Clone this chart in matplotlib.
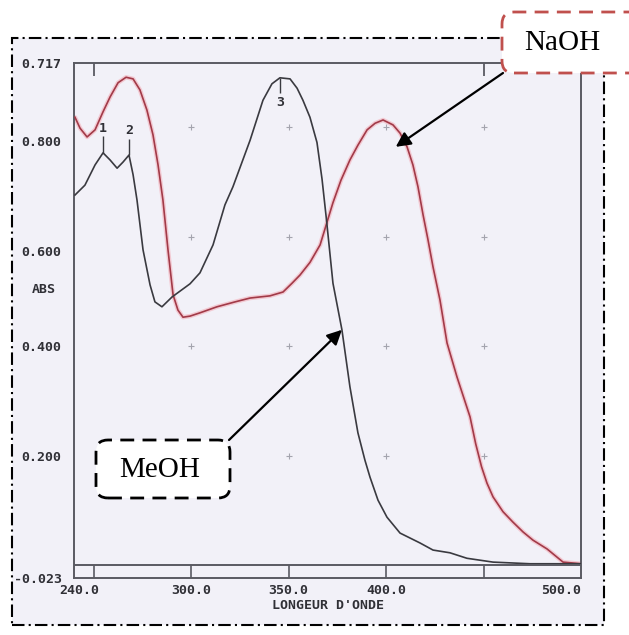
import matplotlib
matplotlib.use("Agg")
import matplotlib.pyplot as plt
from matplotlib.patches import Rectangle, FancyBboxPatch
from matplotlib.transforms import ScaledTranslation, IdentityTransform

# ---------------- data ----------------
meoh_nm = [240.5, 245.6, 250.8, 254.9, 258.5, 262.1, 265.1, 268.2, 270.3, 272.3,
           275.4, 279.0, 281.5, 285.1, 290.3, 299.5, 304.6, 311.3, 317.4, 321.5,
           330.3, 336.9, 341.5, 345.6, 350.8, 354.4, 357.4, 361.0, 364.6, 367.2,
           369.5, 372.8, 377.4, 381.5, 385.6, 389.2, 391.8, 395.9, 400.5, 407.2,
           417.4, 424.1, 432.8, 441.5, 454.9, 473.8, 500.0]
meoh_abs = [0.676, 0.694, 0.731, 0.753, 0.740, 0.725, 0.736, 0.749, 0.713, 0.667,
            0.576, 0.512, 0.481, 0.472, 0.490, 0.514, 0.534, 0.585, 0.658, 0.691,
            0.776, 0.849, 0.879, 0.890, 0.888, 0.871, 0.849, 0.818, 0.772, 0.705,
            0.630, 0.515, 0.430, 0.326, 0.242, 0.192, 0.161, 0.119, 0.088, 0.059,
            0.041, 0.028, 0.023, 0.013, 0.006, 0.003, 0.003]

naoh_nm = [240.5, 243.1, 246.7, 250.8, 254.9, 258.5, 262.6, 266.7, 270.3, 273.8,
           277.4, 280.5, 283.1, 285.6, 288.2, 290.8, 293.3, 295.9, 299.5, 304.6,
           313.3, 322.6, 330.3, 340.5, 347.2, 351.8, 355.9, 361.0, 366.2, 369.2,
           372.8, 376.9, 381.5, 385.6, 390.3, 394.4, 398.5, 403.6, 407.2, 410.8,
           413.8, 416.4, 419.0, 421.5, 424.1, 427.7, 431.3, 436.4, 443.1, 446.0,
           449.0, 451.8, 454.9, 460.0, 465.1, 470.3, 475.4, 482.6, 490.8, 500.0]
naoh_abs = [0.818, 0.798, 0.782, 0.795, 0.828, 0.855, 0.881, 0.891, 0.888, 0.868,
            0.831, 0.786, 0.731, 0.667, 0.576, 0.494, 0.466, 0.453, 0.455, 0.461,
            0.472, 0.481, 0.488, 0.492, 0.499, 0.515, 0.530, 0.553, 0.585, 0.620,
            0.662, 0.703, 0.740, 0.767, 0.795, 0.807, 0.813, 0.804, 0.789, 0.764,
            0.731, 0.691, 0.640, 0.595, 0.545, 0.484, 0.406, 0.344, 0.271, 0.222,
            0.180, 0.150, 0.125, 0.098, 0.079, 0.061, 0.046, 0.030, 0.006, 0.003]

peak_nm = [254.9, 268.2, 345.6]
peak_abs = [0.753, 0.749, 0.890]
peak_labels = ["1", "2", "3"]

x_min, x_max = 240.0, 500.0
y_min, y_max = -0.023, 0.917

xtick_vals = [240.0, 300.0, 350.0, 400.0, 500.0]
xtick_labels = ["240.0", "300.0", "350.0", "400.0", "500.0"]
xmark_vals = [250.0, 300.0, 350.0, 400.0, 450.0]

ytick_vals = [0.917, 0.8, 0.6, 0.4, 0.2, -0.023]
ytick_labels = ["0.717", "0.800", "0.600", "0.400", "0.200", "-0.023"]
ymark_vals = [0.8, 0.6, 0.4, 0.2]

x_label = "LONGEUR D'ONDE"
y_label = "ABS"
naoh_text = "NaOH"
meoh_text = "MeOH"

# ---------------- figure ----------------
W, H = 629, 635
DPI = 100
fig = plt.figure(figsize=(W / DPI, H / DPI), dpi=DPI)
fig.patch.set_facecolor("white")

scan_bg = "#f2f1f8"
frame_col = "#5a5a62"
txt_col = "#303036"
mono = dict(family="DejaVu Sans Mono", weight="bold", size=9.5, color=txt_col)

# scanned page with dash-dot border (pixel coords, origin bottom-left)
page = Rectangle((12, H - 625), 592, 587, transform=IdentityTransform(),
                 facecolor=scan_bg, edgecolor="black", lw=1.5,
                 linestyle=(0, (6, 2, 1, 2)), zorder=-2)
fig.add_artist(page)

ax = fig.add_axes([74 / W, (H - 578) / H, 507 / W, 515 / H])
ax.set_facecolor(scan_bg)
ax.set_xlim(x_min, x_max)
ax.set_ylim(y_min, y_max)
for s in ax.spines.values():
    s.set_color(frame_col)
    s.set_linewidth(1.4)

# curves
ax.plot(naoh_nm, naoh_abs, color="#f3b9c3", lw=3.2, alpha=0.7, solid_capstyle="round",
        solid_joinstyle="round", zorder=2)
ax.plot(naoh_nm, naoh_abs, color="#a23a48", lw=1.2, solid_joinstyle="round", zorder=3)
ax.plot(meoh_nm, meoh_abs, color="#3a3a40", lw=1.2, solid_joinstyle="round", zorder=3)

# bottom strip
ax.axhline(0.0, color=frame_col, lw=1.4, zorder=4)
ax.vlines(xmark_vals, y_min, 0.0, color=frame_col, lw=1.2, zorder=4)

# grid "+" marks
gx = [v for v in xmark_vals if v > 250] * len(ymark_vals)
gy = [v for v in ymark_vals for _ in range(len(xmark_vals) - 1)]
ax.scatter(gx, gy, marker="+", s=22, color="#a4a4ae", linewidths=0.8, zorder=1)

# ticks
ax.set_xticks(xtick_vals, xtick_labels)
ax.set_xticks(xmark_vals, minor=True)
ax.set_yticks(ytick_vals, ytick_labels)
ax.set_yticks(ymark_vals, minor=True)
ax.tick_params(which="major", length=0, pad=4)
ax.tick_params(axis="x", which="minor", bottom=False, top=True, direction="in",
               length=9, width=1.3, color=frame_col)
ax.tick_params(axis="y", which="minor", left=True, right=True, direction="in",
               length=9, width=1.3, color=frame_col)
ax.tick_params(axis="y", which="major", pad=9)
for lab in ax.get_xticklabels() + ax.get_yticklabels():
    lab.set_fontfamily(mono["family"])
    lab.set_fontweight(mono["weight"])
    lab.set_fontsize(mono["size"])
    lab.set_color(mono["color"])
xl = ax.get_xticklabels()
xl[0].set_transform(xl[0].get_transform() + ScaledTranslation(5 / DPI, 0, fig.dpi_scale_trans))
xl[-1].set_horizontalalignment("right")
yl = ax.get_yticklabels()
for i in (1, 2):
    yl[i].set_transform(yl[i].get_transform() + ScaledTranslation(0, -14 / DPI, fig.dpi_scale_trans))

ax.text(0.5, -0.054, x_label, transform=ax.transAxes, ha="center", va="center", **mono)
ax.text(-0.059, 0.56, y_label, transform=ax.transAxes, ha="center", va="center", **mono)

# peak markers
for i, (px, py, pl) in enumerate(zip(peak_nm, peak_abs, peak_labels)):
    if i < 2:
        ax.vlines(px, py, py + 0.03, color="#3a3a40", lw=1.0)
        ax.text(px, py + 0.045, pl, ha="center", va="center", **mono)
    else:
        ax.vlines(px, py - 0.028, py, color="#3a3a40", lw=1.0)
        ax.text(px, py - 0.045, pl, ha="center", va="center", **mono)

# annotation boxes
naoh_box = FancyBboxPatch((502, H - 73), 170, 61, transform=IdentityTransform(),
                          boxstyle="round,pad=0,rounding_size=12",
                          facecolor="white", edgecolor="#c0504d", lw=2.0,
                          linestyle=(0, (5, 3)), zorder=10)
fig.add_artist(naoh_box)
fig.text(562 / W, 1 - 43 / H, naoh_text, family="Liberation Serif", size=21,
         ha="center", va="center", color="black", zorder=11)

meoh_box = FancyBboxPatch((96, H - 498), 134, 58, transform=IdentityTransform(),
                          boxstyle="round,pad=0,rounding_size=12",
                          facecolor="white", edgecolor="black", lw=2.0,
                          linestyle=(0, (5, 3)), zorder=10)
fig.add_artist(meoh_box)
fig.text(160 / W, 1 - 470 / H, meoh_text, family="Liberation Serif", size=21,
         ha="center", va="center", color="black", zorder=11)

arrow = dict(arrowstyle="-|>", color="black", lw=1.6, mutation_scale=22,
             shrinkA=0, shrinkB=0)
ax.annotate("", xy=(405.0, 0.764), xycoords="data",
            xytext=(503, H - 73), textcoords="figure pixels",
            arrowprops=arrow, annotation_clip=False)
ax.annotate("", xy=(377.4, 0.430), xycoords="data",
            xytext=(229, H - 440), textcoords="figure pixels",
            arrowprops=arrow, annotation_clip=False)

fig.savefig("out.png", dpi=DPI)
